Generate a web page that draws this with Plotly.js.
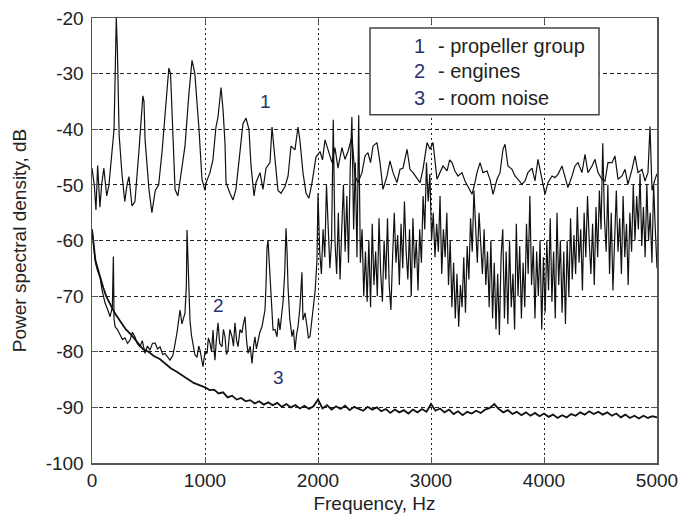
<!DOCTYPE html>
<html>
<head>
<meta charset="utf-8">
<script src="https://cdn.plot.ly/plotly-3.0.1.min.js"></script>
<style>html,body{margin:0;padding:0;background:#fff;}#chart{width:682px;height:520px;}</style>
</head>
<body>
<div id="chart"></div>
<script>
// Series 1 - propeller group
const s1Freq = [0,20,35,50,70,85,105,130,150,165,180,195,205,215,225,240,265,290,310,327,354,380,415,440,450,460,470,505,530,560,590,620,645,665,680,695,708,735,760,797,823,858,875,885,895,910,947,973,1000,1010,1044,1070,1097,1115,1142,1160,1177,1186,1221,1248,1274,1310,1336,1363,1389,1407,1434,1451,1487,1513,1540,1575,1593,1620,1646,1673,1708,1735,1761,1796,1823,1840,1867,1894,1920,1947,1982,2018,2040,2062,2088,2124,2150,2177,2212,2239,2265,2301,2327,2354,2389,2416,2442,2465,2487,2522,2549,2575,2611,2637,2664,2699,2726,2752,2788,2814,2841,2876,2903,2929,2965,2991,3018,3053,3080,3106,3142,3165,3186,3212,3239,3274,3301,3327,3363,3389,3407,3434,3460,3496,3522,3549,3584,3611,3637,3655,3681,3717,3743,3770,3805,3832,3858,3894,3920,3947,3982,4009,4035,4071,4097,4124,4159,4186,4212,4248,4274,4301,4336,4363,4389,4425,4451,4478,4513,4540,4566,4602,4628,4655,4690,4717,4743,4779,4805,4832,4867,4894,4920,4938,4956,4982,5000];
const s1Val = [-47,-50,-54.5,-46.5,-54,-50,-47,-52,-50,-47,-44,-40,-30,-20,-26,-41,-48,-53,-50,-48.5,-53.8,-53,-44,-36,-34,-35,-42,-51,-55,-51,-50,-44,-37,-32,-29,-30,-37.5,-50.8,-52,-46.5,-43,-33.5,-29,-27.6,-28.5,-30,-40,-49,-51,-49.6,-47.8,-45.5,-39.6,-37.8,-32.5,-36.6,-42.5,-49.6,-51.5,-52.7,-50.8,-43.7,-39,-38,-40,-46.5,-52,-49.6,-47.8,-50.8,-47,-46,-39.6,-45.5,-51,-51.5,-50.3,-48.4,-43,-43.7,-39.6,-42,-47.8,-51.5,-52.4,-49.6,-45,-44,-45.5,-41.9,-43.6,-46,-43.3,-47,-43.3,-45.4,-44,-41.3,-48.4,-49.6,-47.8,-44.8,-44.2,-46,-43,-42.4,-46,-50.8,-48.4,-45.7,-47.8,-49.6,-47.2,-47,-43.6,-47.2,-47.8,-48.7,-49.6,-47.2,-42.4,-43.6,-42.4,-49,-47.8,-46.6,-47.5,-45.5,-46,-47.5,-48.4,-47.8,-49.3,-50.2,-51.7,-49.6,-47.8,-46,-47.8,-47.5,-49,-51.7,-49,-47.8,-43.6,-42.7,-46.6,-47.2,-48.4,-49,-49.9,-49.3,-47.8,-47,-49.3,-45.4,-49,-51.7,-49.6,-48.4,-48.7,-48.1,-46.6,-48.7,-50.5,-48.4,-46.6,-46,-47.8,-44.5,-47.8,-46.6,-45.4,-47.8,-49,-49.3,-46,-46,-44.8,-49,-48.4,-47.2,-49.9,-47.2,-44.8,-47.8,-47.2,-49.3,-47.8,-39.5,-51,-49,-48];

// Series 2 - engines
const s2Freq = [0,15,30,50,70,90,115,140,160,180,189,195,204,225,248,270,292,315,336,358,380,400,425,445,469,490,513,535,558,580,602,625,646,668,690,717,735,752,779,796,823,835,841,846,850,867,880,894,910,929,945,956,970,982,1000,1018,1030,1044,1058,1071,1080,1088,1100,1115,1130,1150,1163,1177,1190,1204,1220,1239,1252,1265,1280,1292,1310,1327,1340,1354,1368,1381,1400,1416,1430,1442,1455,1469,1485,1504,1518,1531,1540,1549,1558,1566,1575,1590,1602,1620,1637,1650,1664,1680,1690,1705,1717,1726,1735,1750,1770,1783,1796,1810,1823,1840,1858,1867,1885,1903,1915,1929,1942,1956,1975,1991,
2000,2015,2030,2045,2060,2075,2090,2105,2120,2135,2150,2165,2180,2195,2210,2225,2240,2255,2270,2285,2300,2315,2330,2345,2360,2375,2390,2405,2420,2435,2450,2465,2480,2495,2510,2525,2540,2555,2570,2585,2600,2615,2630,2645,2660,2675,2690,2705,2720,2735,2750,2765,2780,2795,2810,2825,2840,2855,2870,2885,2900,2915,2930,2945,2960,2975,2990,3005,3020,3035,3050,3065,3080,3095,3110,3125,3140,3155,3170,3185,3200,3215,3230,3245,3260,3275,3290,3305,3320,3335,3350,3365,3380,3395,3410,3425,3440,3455,3470,3485,3500,3515,3530,3545,3560,3575,3590,3605,3620,3635,3650,3665,3680,3695,3710,3725,3740,3755,3770,3785,3800,3815,3830,3845,3860,3875,3890,3905,3920,3935,3950,3965,3980,3995,4010,4025,4040,4055,4070,4085,4100,4115,4130,4145,4160,4175,4190,4205,4220,4235,4250,4265,4280,4295,4310,4325,4340,4355,4370,4385,4400,4415,4430,4445,4460,4475,4490,4505,4520,4535,4550,4565,4580,4595,4610,4625,4640,4655,4670,4685,4700,4715,4730,4745,4760,4775,4790,4805,4820,4835,4850,4865,4880,4895,4910,4925,4940,4955,4970,4985,5000];
const s2Val = [-58,-61.5,-64,-65.5,-66.5,-69,-71.2,-72.5,-73.7,-72,-62.9,-74,-75.5,-76,-77,-77.8,-77.5,-78.5,-77.9,-76.5,-77.3,-78.5,-79.1,-78,-80.3,-79,-79.7,-78.5,-78.4,-79.5,-79.1,-80.5,-80.3,-81,-81.5,-80.6,-78.5,-76.6,-72.5,-75,-73,-68,-58.1,-62,-65.3,-74.3,-77,-79.1,-80.5,-81,-79,-79.7,-81.5,-82.7,-80,-80.3,-77.5,-78.4,-80,-76.1,-79.5,-81.5,-78,-74.8,-78.5,-79.1,-76,-77.3,-80.5,-79.7,-76,-77.3,-79,-74.8,-78,-79.1,-76,-76.6,-75,-73.7,-78,-80.3,-79,-82.1,-79,-77.3,-79.5,-77.9,-76.5,-75.5,-74,-72.5,-68,-61.2,-60,-63,-67.1,-73,-76.1,-76,-77.3,-74,-76.1,-73,-71.2,-66,-57.8,-62,-68.4,-74,-77.3,-76,-79.7,-77,-75.5,-72,-65.7,-74.3,-73,-75.5,-77.5,-77.3,-75,-73,-69,-63.5,
-51.5,-62,-66,-58,-63,-50,-58,-65,-60,-38.3,-60,-66,-55,-67,-58,-50,-62,-52,-64,-47,-37.8,-58,-46,-63,-37.5,-64,-58,-70,-62,-71,-60,-72,-57,-68,-62,-70,-56,-66,-71,-60,-67,-56,-68,-72.5,-63,-55,-64,-59,-68,-57,-65,-53,-62,-67,-58,-70,-56,-65,-60,-69,-58,-64,-52,-58,-46,-53,-48,-60,-55,-63,-57,-62,-52,-66,-58,-63,-55,-68,-60,-72,-64,-74,-66,-75.5,-68,-72,-63,-73,-61,-67,-56,-62,-51,-58,-64,-55,-62,-66,-58,-68,-62,-72,-60,-74,-64,-76,-66,-77,-63,-58,-74,-62,-75,-60,-72,-66,-76,-57,-70,-61,-74,-64,-72,-57,-66,-52,-68,-61,-74,-62,-70,-60,-76,-63,-73,-60,-69,-56,-71,-62,-74,-55,-68,-60,-73,-62,-75,-60,-70,-56,-67,-59,-66,-54,-64,-58,-69,-55,-63,-52,-60,-66,-57,-68,-54,-63,-51,-58,-42.5,-56,-62,-50,-66,-55,-69,-58,-51,-62,-56,-66,-52,-63,-57,-68,-55,-62,-50,-60,-52,-58,-48,-61,-54,-63,-50,-60,-55,-64,-50,-58,-65];

// Series 3 - room noise
const s3Freq = [0,15,30,50,75,100,125,150,175,200,250,300,350,400,450,500,550,600,650,700,750,800,850,900,950,1000,1040,1080,1120,1160,1200,1240,1280,1320,1360,1400,1440,1480,1520,1560,1600,1640,1680,1720,1760,1800,1840,1880,1920,1960,2000,2040,2080,2120,2160,2200,2240,2280,2320,2360,2400,2440,2480,2520,2560,2600,2640,2680,2720,2760,2800,2840,2880,2920,2960,3000,3040,3080,3120,3160,3200,3240,3280,3320,3360,3400,3440,3480,3520,3560,3600,3640,3680,3720,3760,3800,3840,3880,3920,3960,4000,4040,4080,4120,4160,4200,4240,4280,4320,4360,4400,4440,4480,4520,4560,4600,4640,4680,4720,4760,4800,4840,4880,4920,4960,5000];
const s3Val = [-58,-61,-63.5,-65,-67,-68.5,-70,-71,-72,-73,-74.5,-76,-77,-78.3,-79.5,-80,-80.8,-81.3,-82.2,-83,-83.6,-84.3,-85,-85.6,-86,-86.4,-86.9,-86.8,-87.5,-87.3,-88.2,-87.9,-88.6,-88.3,-88.9,-88.7,-89.3,-88.9,-89.5,-89.1,-89.6,-89.2,-89.9,-89.4,-90,-89.6,-90.2,-89.7,-90.3,-89.8,-88.6,-90.2,-89.6,-90.4,-89.8,-90.3,-89.7,-90.5,-89.9,-90.2,-90.6,-89.9,-90.4,-90,-90.7,-90.3,-91,-90.4,-90.9,-90.5,-91.1,-90.4,-90.9,-90.3,-90.8,-89.4,-90.6,-90.2,-90.9,-90.4,-91.2,-90.7,-91.4,-90.8,-91.1,-90.6,-91,-90.4,-90.1,-89.4,-90.3,-90.9,-90.5,-91.2,-90.8,-91.4,-90.9,-91.5,-91,-91.6,-91.1,-91.7,-91.3,-91.9,-91.4,-91.8,-91.2,-91.5,-90.9,-91.3,-90.7,-91.2,-90.8,-91.3,-90.9,-91.5,-91.1,-91.8,-91.3,-91.9,-91.5,-92,-91.5,-91.9,-91.6,-91.8];

const xTicks = [0,1000,2000,3000,4000,5000];
const yTicks = [-100,-90,-80,-70,-60,-50,-40,-30,-20];
const legendNums = ['1','2','3'];
const legendTexts = ['- propeller group','- engines','- room noise'];
const curveLabels = ['1','2','3'];

const traces = [
  {x:s1Freq, y:s1Val, type:'scatter', mode:'lines', line:{color:'#111', width:1.2}, hoverinfo:'skip'},
  {x:s2Freq, y:s2Val, type:'scatter', mode:'lines', line:{color:'#111', width:1.2}, hoverinfo:'skip'},
  {x:s3Freq, y:s3Val, type:'scatter', mode:'lines', line:{color:'#111', width:1.8}, hoverinfo:'skip'}
];

const fam = 'Liberation Sans, Arial, sans-serif';
const tickFont = {family:fam, size:19, color:'#222'};
const numColor = '#27336a';

const annotations = [];
const legY = [-25.0, -29.6, -34.4];
for (let i=0;i<3;i++){
  annotations.push({x:2900, y:legY[i], xref:'x', yref:'y', text:legendNums[i], showarrow:false, xanchor:'center', yanchor:'middle', font:{family:fam, size:20, color:numColor}});
  annotations.push({x:3040, y:legY[i], xref:'x', yref:'y', text:legendTexts[i], showarrow:false, xanchor:'left', yanchor:'middle', font:{family:fam, size:20, color:'#222'}});
}
const labPos = [[1531,-35.1],[1115,-71.6],[1646,-84.7]];
for (let i=0;i<3;i++){
  annotations.push({x:labPos[i][0], y:labPos[i][1], xref:'x', yref:'y', text:curveLabels[i], showarrow:false, font:{family:fam, size:19, color:numColor}});
}

const layout = {
  width:682, height:520,
  margin:{l:92, r:25, t:18, b:57},
  paper_bgcolor:'#fff', plot_bgcolor:'#fff',
  showlegend:false,
  xaxis:{
    range:[0,5000], tickvals:xTicks, ticktext:xTicks.map(String),
    showgrid:true, gridcolor:'#222', griddash:'2px,3px', gridwidth:1,
    zeroline:false, showline:true, linecolor:'#555', linewidth:1.5, mirror:'ticks',
    ticks:'inside', ticklen:6, tickcolor:'#555', tickfont:tickFont,
    title:{text:'Frequency, Hz', font:tickFont, standoff:6}
  },
  yaxis:{
    range:[-100,-20], tickvals:yTicks, ticktext:yTicks.map(String),
    showgrid:true, gridcolor:'#222', griddash:'4px,3px', gridwidth:1,
    zeroline:false, showline:true, linecolor:'#555', linewidth:1.5, mirror:'ticks',
    ticks:'inside', ticklen:6, tickcolor:'#555', tickfont:tickFont, ticklabelstandoff:3,
    title:{text:'Power spectral density, dB', font:tickFont, standoff:14}
  },
  shapes:[{type:'rect', xref:'x', yref:'y', x0:2460, x1:4487, y0:-37.4, y1:-21.8, fillcolor:'#fff', line:{color:'#444', width:1.5}, layer:'above'}],
  annotations:annotations
};

Plotly.newPlot('chart', traces, layout, {staticPlot:true, displayModeBar:false});
</script>
</body>
</html>
